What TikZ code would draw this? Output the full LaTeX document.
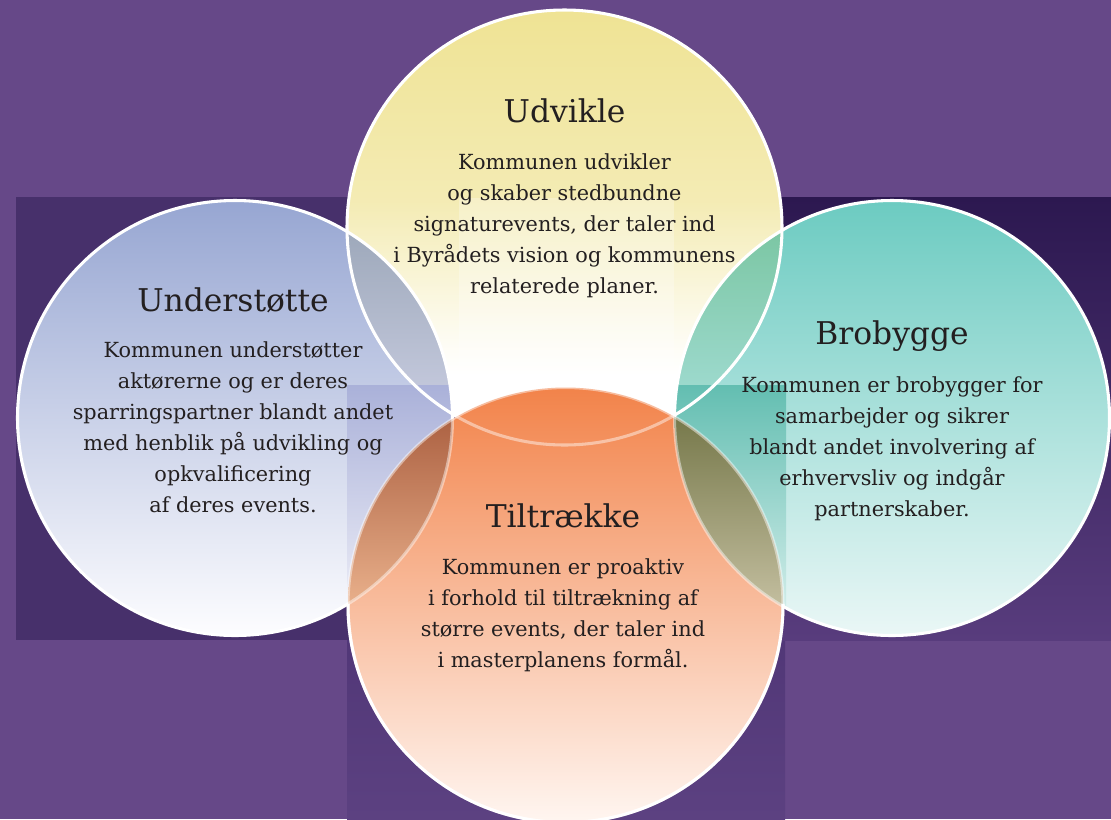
\documentclass[tikz,border=0pt]{standalone}
\usepackage{fontspec}
\setmainfont{DejaVu Serif}
\usetikzlibrary{calc}
\definecolor{bgc}{HTML}{664888}
\definecolor{rectL}{HTML}{47306B}
\definecolor{rectRt}{HTML}{2C1850}
\definecolor{rectRb}{HTML}{583C7D}
\definecolor{rectBt}{HTML}{42296A}
\definecolor{rectBb}{HTML}{5C4181}
\definecolor{Yc}{HTML}{EFE394}
\definecolor{Bt}{HTML}{97A6D2}
\definecolor{Bb}{HTML}{FDFDFF}
\definecolor{Tt}{HTML}{6CCBC1}
\definecolor{Tm}{HTML}{A0DCD5}
\definecolor{Tb}{HTML}{EAF7F6}
\definecolor{Ot}{HTML}{F2834A}
\definecolor{Ob}{HTML}{FFF6F1}
\definecolor{YBt}{HTML}{9DA8BA}
\definecolor{YBb}{HTML}{C9CDE1}
\definecolor{YTt}{HTML}{7BC6A3}
\definecolor{YTb}{HTML}{A3DDD5}
\definecolor{OBt}{HTML}{AC6142}
\definecolor{OBb}{HTML}{E9B08B}
\definecolor{OTt}{HTML}{76784A}
\definecolor{OTb}{HTML}{C3BE9F}
\definecolor{BPt}{HTML}{AAB1D9}
\definecolor{BPb}{HTML}{F6F6FB}
\definecolor{TPt}{HTML}{63BEB1}
\definecolor{TPb}{HTML}{E0F3F1}
\definecolor{txt}{HTML}{231F20}
\pgfdeclareverticalshading{yelshade}{100bp}{color(0bp)=(white); color(25bp)=(white); color(33bp)=(white); color(36bp)=(Yc!8!white); color(43bp)=(Yc!33!white); color(53bp)=(Yc!70!white); color(75bp)=(Yc); color(100bp)=(Yc)}
\tikzset{
  ring/.style={draw=white, line width=2.3pt},
  softring/.style={draw=white, draw opacity=0.45, line width=2.3pt},
  titletext/.style={font=\fontsize{23.5}{28}\selectfont, text=txt, anchor=base, inner sep=0pt},
  bodytext/.style={font=\fontsize{15.6}{23.25}\selectfont, text=txt, align=center, anchor=base, inner sep=0pt}
}
\begin{document}
\begin{tikzpicture}[x=0.75pt,y=-0.75pt]
\useasboundingbox (0,0) rectangle (1111,819);
% background
\fill[bgc] (0,0) rectangle (1111,819);
\shade[top color=rectBt, bottom color=rectBb] (347,385) rectangle (785,819);
\fill[rectL] (16,197) rectangle (566,640);
\shade[top color=rectRt, bottom color=rectRb] (565,197) rectangle (1111,640);
% centres
\coordinate (cY) at (564.5,227.5);
\coordinate (cB) at (235,418);
\coordinate (cT) at (892,418);
\coordinate (cO) at (565.5,605);
\def\R{217.5}
% circle fills
\shade[shading=yelshade] (cY) circle (\R);
\begin{scope}
  \clip (cY) circle (\R);
  \fill[white, fill opacity=0.28] (459,198) rectangle (674,450);
\end{scope}
\shade[top color=Bt, bottom color=Bb] (cB) circle (\R);
\shade[top color=Tt, middle color=Tm, bottom color=Tb] (cT) circle (\R);
% lenses with yellow
\begin{scope}
  \clip (cY) circle (\R); \clip (cB) circle (\R);
  \shade[top color=YBt, bottom color=YBb] (330,228) rectangle (470,418);
\end{scope}
\begin{scope}
  \clip (cY) circle (\R); \clip (cT) circle (\R);
  \shade[top color=YTt, bottom color=YTb] (660,228) rectangle (800,418);
\end{scope}
% translucency patches
\begin{scope}
  \clip (cB) circle (\R);
  \shade[top color=BPt, bottom color=BPb] (347,385) rectangle (454,640);
\end{scope}
\begin{scope}
  \clip (cT) circle (\R);
  \shade[top color=TPt, bottom color=TPb] (676,385) rectangle (786,640);
\end{scope}
% outlines of the three upper circles
\draw[ring] (cY) circle (\R);
\draw[ring] (cB) circle (\R);
\draw[ring] (cT) circle (\R);
% orange circle
\shade[top color=Ot, bottom color=Ob] (cO) circle (\R);
\begin{scope}
  \clip (cO) circle (\R); \clip (cB) circle (\R);
  \shade[top color=OBt, bottom color=OBb] (330,416) rectangle (470,606);
\end{scope}
\begin{scope}
  \clip (cO) circle (\R); \clip (cT) circle (\R);
  \shade[top color=OTt, bottom color=OTb] (660,416) rectangle (800,606);
\end{scope}
\begin{scope}
  \clip (cO) circle (\R);
  \draw[softring] (cY) circle (\R);
  \draw[softring] (cB) circle (\R);
  \draw[softring] (cT) circle (\R);
\end{scope}
\draw[softring] (cO) circle (\R);
\draw[ring] ($(cO)+(180.3:\R)$) arc[start angle=180.3, end angle=-0.3, radius=\R];
% texts (body nodes are anchored at the baseline of their last line)
\node[titletext] (tY) at (564.5,122) {Udvikle};
\node[bodytext] (bY) at (564.5,293) {Kommunen udvikler\\og skaber stedbundne\\signaturevents, der taler ind\\i Byrådets vision og kommunens\\relaterede planer.};
\node[titletext] (tB) at (233,311) {Understøtte};
\node[bodytext] (bB) at (233,512) {Kommunen understøtter\\aktørerne og er deres\\sparringspartner blandt andet\\med henblik på udvikling og\\opkvalificering\\af deres events.};
\node[titletext] (tT) at (892,344) {Brobygge};
\node[bodytext] (bT) at (892,516) {Kommunen er brobygger for\\samarbejder og sikrer\\blandt andet involvering af\\erhvervsliv og indgår\\partnerskaber.};
\node[titletext] (tO) at (563,527) {Tiltrække};
\node[bodytext] (bO) at (563,667) {Kommunen er proaktiv\\i forhold til tiltrækning af\\større events, der taler ind\\i masterplanens formål.};
\end{tikzpicture}
\end{document}
